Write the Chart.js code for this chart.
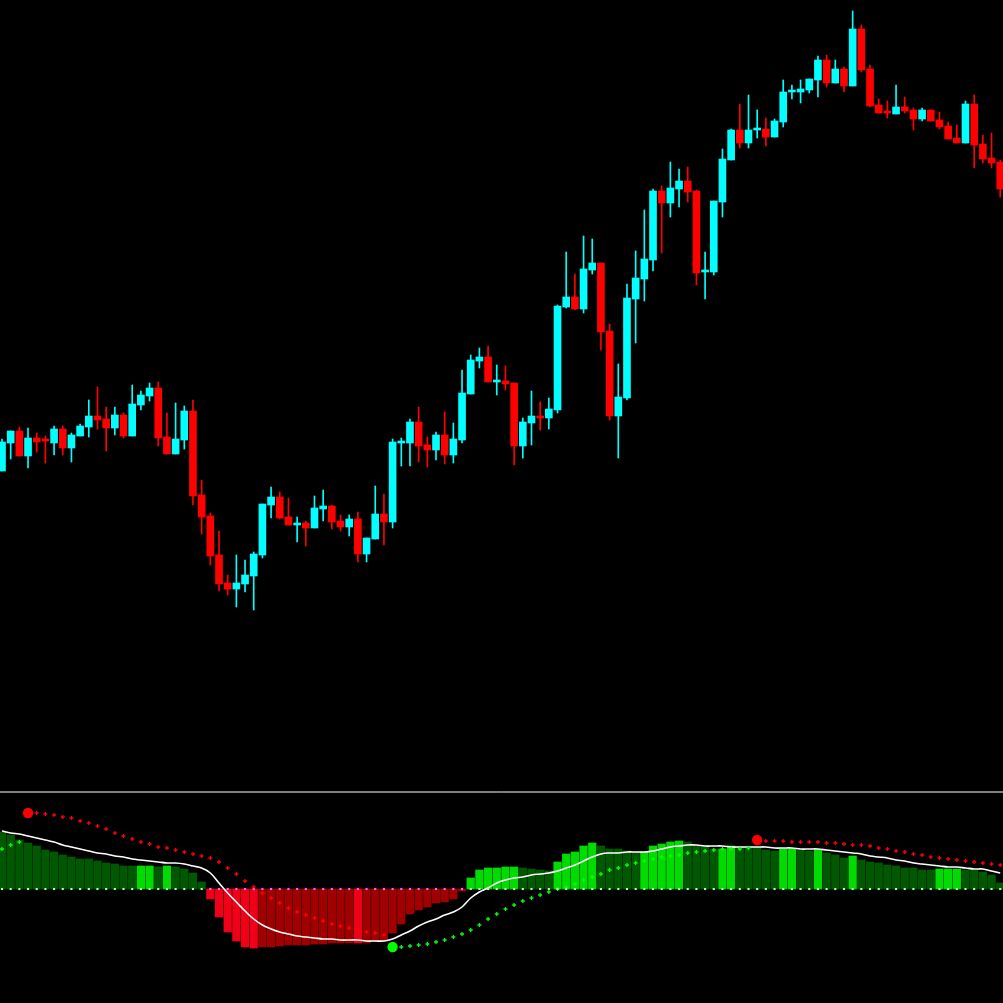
<!DOCTYPE html>
<html><head><meta charset="utf-8">
<script src="https://cdn.jsdelivr.net/npm/chart.js@4"></script>
<style>html,body{margin:0;padding:0;background:#000;overflow:hidden}canvas{display:block;background:#000}</style>
</head><body><canvas id="c" width="1003" height="1003"></canvas>
<script>
// Candles (price in points)
const opens  = [529,557,569,544,562,560,557,571,552,564,573,584,581,572,585,564,595,604,612,563,546,560,589,505,484,445,417,411,416,424,445,495,503,483,475,477,472,491,494,479,473,481,446,461,486,478,557,557,578,555,550,565,545,560,606,639,643,618,619,617,554,577,584,582,590,693,703,691,730,737,669,584,602,701,721,740,809,797,811,819,809,728,728,798,840,870,857,870,871,863,878,908,908,910,920,940,917,931,914,971,931,895,888,886,893,890,881,890,880,874,862,857,896,856,842,838];
const highs  = [561,569,573,572,567,564,574,574,567,576,600,613,593,593,587,615,609,617,618,587,597,594,600,520,487,469,425,445,440,448,496,513,508,502,483,479,504,510,495,485,485,488,462,514,506,561,562,581,593,563,568,588,577,630,645,652,654,635,634,617,582,609,598,602,695,748,726,764,761,737,676,636,716,749,790,811,814,838,831,833,810,748,799,851,871,896,905,890,882,881,920,915,920,921,944,945,940,933,989,975,935,901,899,915,903,892,892,890,888,878,875,899,905,865,867,840];
const lows   = [529,541,544,532,548,537,545,545,538,564,563,571,549,565,562,564,590,599,554,546,546,551,495,466,435,409,405,393,408,390,442,482,481,475,458,454,472,479,471,469,464,438,438,461,455,472,534,534,538,533,540,536,537,557,606,632,618,605,610,535,542,555,570,571,587,692,690,687,726,650,580,542,600,657,699,729,747,783,793,798,715,701,725,783,840,852,852,862,854,863,873,901,897,907,903,913,917,908,914,928,893,887,882,886,887,870,879,879,871,861,857,857,832,837,832,803];
const closes = [558,569,544,562,558,559,571,552,565,574,584,580,572,585,564,596,605,612,562,546,561,589,504,483,444,416,411,417,425,446,496,503,482,475,477,472,492,494,478,473,481,446,462,486,478,558,558,578,554,550,565,545,561,607,640,643,618,619,616,554,578,584,582,591,694,703,691,731,737,668,584,603,702,722,741,809,797,812,819,808,727,729,799,841,870,857,870,871,863,879,908,909,911,921,940,917,931,914,971,930,894,887,887,893,889,881,890,879,873,861,857,896,855,841,837,811];

// Indicator panel
const histogram = [57,54,49,46,43,39,37,34,32,30,30,28,26,25,23,23,23,23,22,23,22,20,16,7,
 -10,-28,-43,-52,-58,-59,-58,-58,-57,-56,-56,-56,-55,-55,-54,-54,-54,-54,-54,-52,-52,-44,-35,-25,-21,-18,-14,-13,-10,-2,
 11,19,21,21,22,22,21,20,19,18,27,35,37,43,46,43,40,40,38,37,37,43,45,47,48,47,43,43,40,40,43,42,42,42,39,38,40,40,39,38,39,36,34,31,33,29,27,26,24,23,21,21,19,19,20,20,20,19,19,17,14,6];
const histBright = [0,0,0,0,0,0,0,0,0,0,0,0,0,0,0,0,1,1,0,1,0,0,0,0,
 1,1,1,1,1,1,0,0,0,0,0,0,0,0,0,0,0,1,0,0,0,0,0,0,0,0,0,0,0,0,
 1,1,1,1,1,1,0,0,0,0,1,1,1,1,1,0,0,0,0,0,1,1,1,1,1,0,0,0,0,1,1,0,0,0,0,0,1,1,0,0,1,0,0,0,1,0,0,0,0,0,0,0,0,0,1,1,1,0,0,0,0,0];
const signalLine = [58,56,55,53,51,49,47,44,42,40,38,36,35,33,32,30,29,28,27,26,26,25,23,21,16,6,-4,-13,-22,-30,-36,-40,-43,-45,-47,-48,-49,-50,-50,-51,-51,-51,-52,-52,-52,-50,-46,-42,-37,-33,-30,-26,-23,-18,-9,-3,1,6,9,11,12,14,15,16,18,21,24,28,32,35,36,36,37,37,37,38,40,42,43,44,44,43,43,43,42,42,42,42,42,41,41,41,40,40,40,39,38,37,36,35,33,32,31,29,28,26,25,24,23,22,22,21,20,20,18,16];
const N = null;
const upperDots = [N,N,N,76,76,75,74,72,71,68,66,63,60,56,53,50,47,45,42,41,39,37,35,33,31,27,21,15,8,2,-4,-9,-14,-19,-23,-26,-29,-32,-35,-37,-39,-41,-43,-44,-46,
 N,N,N,N,N,N,N,N,N,N,N,N,N,N,N,N,N,N,N,N,N,N,N,N,N,N,N,N,N,N,N,N,N,N,N,N,N,N,N,N,N,N,
 49,48,48,48,47,47,47,47,46,46,45,44,44,43,41,40,38,37,35,34,32,31,30,29,28,27,26,25,24];
const lowerDots = [40,44,47,N,N,N,N,N,N,N,N,N,N,N,N,N,N,N,N,N,N,N,N,N,N,N,N,N,N,N,N,N,N,N,N,N,N,N,N,N,N,N,N,N,N,
 -58,-58,-57,-56,-55,-53,-51,-48,-45,-41,-36,-30,-25,-20,-16,-12,-9,-6,-3,0,2,5,9,12,15,19,21,24,26,28,30,32,33,34,36,37,38,39,40,40,40,41,
 N,N,N,N,N,N,N,N,N,N,N,N,N,N,N,N,N,N,N,N,N,N,N,N,N,N,N,N,N];
const separatorLevel = 97;

const idx = opens.map((_, i) => i);
const up = i => closes[i] >= opens[i];
const candleCol = i => up(i) ? '#00FFFF' : '#FF0000';
const histCol = histogram.map((h, i) => h >= 0 ? (histBright[i] ? '#00DC00' : '#005800') : (histBright[i] ? '#F00018' : '#A00000'));
const segStart = (arr, i) => arr[i] !== null && (i === 0 ? false : arr[i-1] === null);

new Chart(document.getElementById('c'), {
  data: {
    datasets: [
      { type:'bar', yAxisID:'yi', order:10, grouped:false, barThickness:7.6,
        data: idx.map(i => ({x:i, y:histogram[i]})), backgroundColor: histCol },
      { type:'line', yAxisID:'yi', order:5, data: idx.map(i => ({x:i, y:signalLine[i]})),
        borderColor:'#FFFFFF', borderWidth:1.6, pointRadius:0, tension:0.4 },
      { type:'line', yAxisID:'yi', order:4, showLine:false, data: idx.map(i => ({x:i, y:upperDots[i]})),
        pointBackgroundColor:'#FF0000', pointBorderColor:'#FF0000',
        pointStyle: c => segStart(upperDots, c.dataIndex) ? 'circle' : 'cross',
        pointRadius: c => segStart(upperDots, c.dataIndex) ? 4.5 : 2, pointBorderWidth:1.3 },
      { type:'line', yAxisID:'yi', order:4, showLine:false, data: idx.map(i => ({x:i, y:lowerDots[i]})),
        pointBackgroundColor:'#00FF00', pointBorderColor:'#00FF00',
        pointStyle: c => segStart(lowerDots, c.dataIndex) ? 'circle' : 'cross',
        pointRadius: c => segStart(lowerDots, c.dataIndex) ? 4.5 : 2, pointBorderWidth:1.3 },
      { type:'line', yAxisID:'yi', order:3, showLine:false, data: idx.map(i => ({x:i, y:0})),
        pointStyle:'rect', pointRadius:1.5, pointBorderWidth:0,
        pointBackgroundColor: idx.map(i => histogram[i] >= 0 ? '#B0FFB0' : '#FF60FF') },
      { type:'line', yAxisID:'yi', order:2, data:[{x:-5,y:separatorLevel},{x:125,y:separatorLevel}],
        borderColor:'#FFFFFF', borderWidth:1, pointRadius:0 },
      { type:'bar', yAxisID:'yp', order:1, grouped:false, barThickness:1,
        data: idx.map(i => ({x:i, y:[lows[i], highs[i]]})), backgroundColor: idx.map(candleCol) },
      { type:'bar', yAxisID:'yp', order:0, grouped:false, barThickness:7, minBarLength:2,
        data: idx.map(i => ({x:i, y:[opens[i], closes[i]]})), backgroundColor: idx.map(candleCol) }
    ]
  },
  options: {
    responsive:false, animation:false, devicePixelRatio:1,
    layout:{padding:0, autoPadding:false},
    plugins:{legend:{display:false}, tooltip:{enabled:false}},
    scales:{
      x:{type:'linear', display:false, min:-0.23, max:115.32, offset:false},
      yp:{type:'linear', display:false, min:-3, max:1000},
      yi:{type:'linear', display:false, min:-114, max:889}
    }
  }
});
</script></body></html>
